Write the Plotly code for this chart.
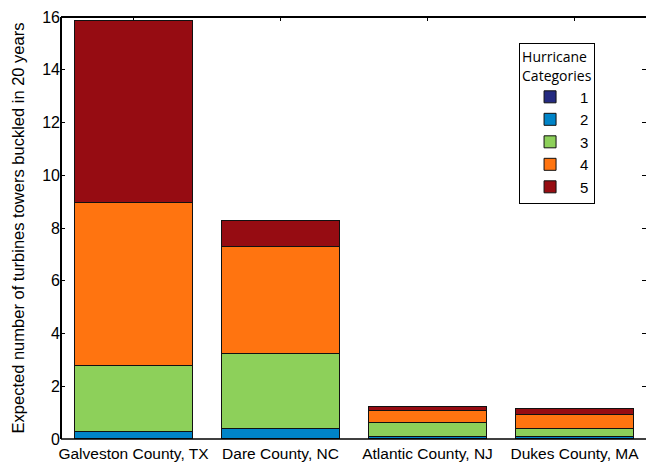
import plotly.graph_objects as go

counties = ["Galveston County, TX", "Dare County, NC", "Atlantic County, NJ", "Dukes County, MA"]
cat1 = [0.02, 0.02, 0.01, 0.01]
cat2 = [0.26, 0.39, 0.08, 0.08]
cat3 = [2.49, 2.84, 0.52, 0.32]
cat4 = [6.18, 4.03, 0.48, 0.53]
cat5 = [6.91, 1.01, 0.13, 0.21]
cat_names = ["1", "2", "3", "4", "5"]
colors = ["#242a80", "#0084c8", "#8dd05a", "#ff7410", "#960c12"]
y_ticks = [0, 2, 4, 6, 8, 10, 12, 14, 16]

fig = go.Figure()
for name, vals, col in zip(cat_names, [cat1, cat2, cat3, cat4, cat5], colors):
    fig.add_trace(go.Bar(
        x=counties, y=vals, name=name,
        marker=dict(color=col, line=dict(color="#111111", width=1)),
    ))

fig.update_layout(
    width=646, height=463,
    barmode="stack", bargap=0.2,
    margin=dict(l=61, r=0, t=17, b=24),
    plot_bgcolor="white", paper_bgcolor="white",
    font=dict(family="Liberation Sans", size=15, color="black"),
    legend=dict(
        title=dict(text="Hurricane<br>Categories", font=dict(family="Open Sans", size=14, color="black")),
        x=0.783, y=0.938, xanchor="left", yanchor="top",
        bordercolor="black", borderwidth=1, bgcolor="white",
        font=dict(size=15, color="black"), traceorder="normal", itemwidth=50,
        entrywidth=80, entrywidthmode="pixels",
    ),
    xaxis=dict(
        range=[-0.493, 3.486], showline=False, showgrid=False,
        ticks="inside", ticklen=4, tickcolor="black", mirror="ticks",
        tickfont=dict(size=15.5), layer="below traces", ticklabelstandoff=3,
    ),
    yaxis=dict(
        range=[0, 16], tickvals=y_ticks, showline=False, showgrid=False, zeroline=False,
        ticks="inside", ticklen=4, tickcolor="black", mirror="ticks",
        tickfont=dict(size=16),
        title=dict(text="Expected number of turbines towers buckled in 20 years", font=dict(size=16.5), standoff=13),
    ),
    showlegend=True,
)
# axis spines: left, top, bottom (right spine lies outside the visible frame)
fig.add_shape(type="line", xref="paper", yref="paper", x0=0, x1=0, y0=0, y1=1, line=dict(color="black", width=2))
fig.add_shape(type="line", xref="paper", yref="paper", x0=0, x1=1, y0=1, y1=1, line=dict(color="black", width=2))
fig.add_shape(type="line", xref="paper", yref="paper", x0=0, x1=1, y0=0, y1=0, line=dict(color="black", width=1.5))

fig.write_html("out.html")
